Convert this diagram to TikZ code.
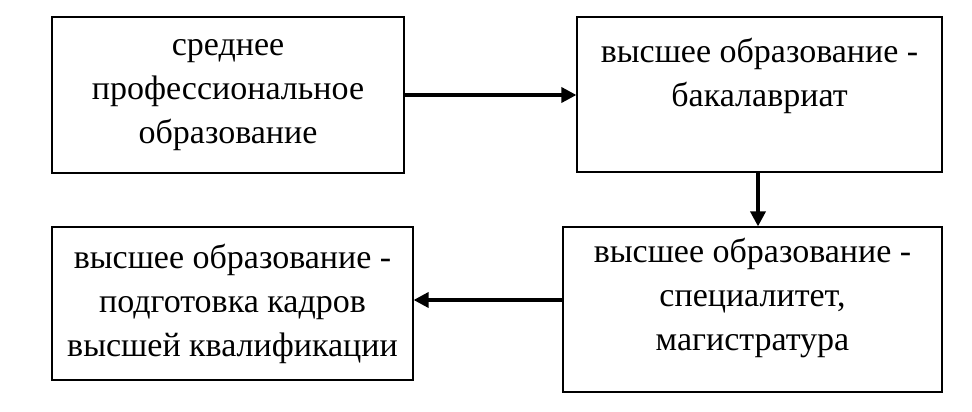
\documentclass[tikz,border=0pt]{standalone}
\usepackage{fontspec}
\setmainfont{Liberation Serif}
\usetikzlibrary{arrows.meta}
\begin{document}
\begin{tikzpicture}[x=1pt,y=1pt,
  box/.style={draw,line width=1.2pt,align=center,font=\fontsize{34}{44}\selectfont,inner sep=0pt},
  arr/.style={line width=3.5pt,-{Triangle[length=15pt,width=15pt]}}]
\useasboundingbox (0,0) rectangle (972,412);
\node[box,minimum width=352,minimum height=156] (a) at (228,317) {среднее\\профессиональное\\образование};
\node[box,minimum width=365,minimum height=155] (b) at (759.5,317.5) {высшее образование -\\бакалавриат\\\mbox{}};
\node[box,minimum width=379,minimum height=165] (c) at (752.5,102.5) {высшее образование -\\специалитет,\\магистратура\\[-14pt]\mbox{}};
\node[box,minimum width=361,minimum height=153] (d) at (232.5,108.5) {высшее образование -\\подготовка кадров\\высшей квалификации};
\draw[arr] (a.east |- 0,317) -- (b.west |- 0,317);
\draw[arr] (758,0 |- b.south) -- (758,0 |- c.north);
\draw[arr] (c.west |- 0,112) -- (d.east |- 0,112);
\end{tikzpicture}
\end{document}
